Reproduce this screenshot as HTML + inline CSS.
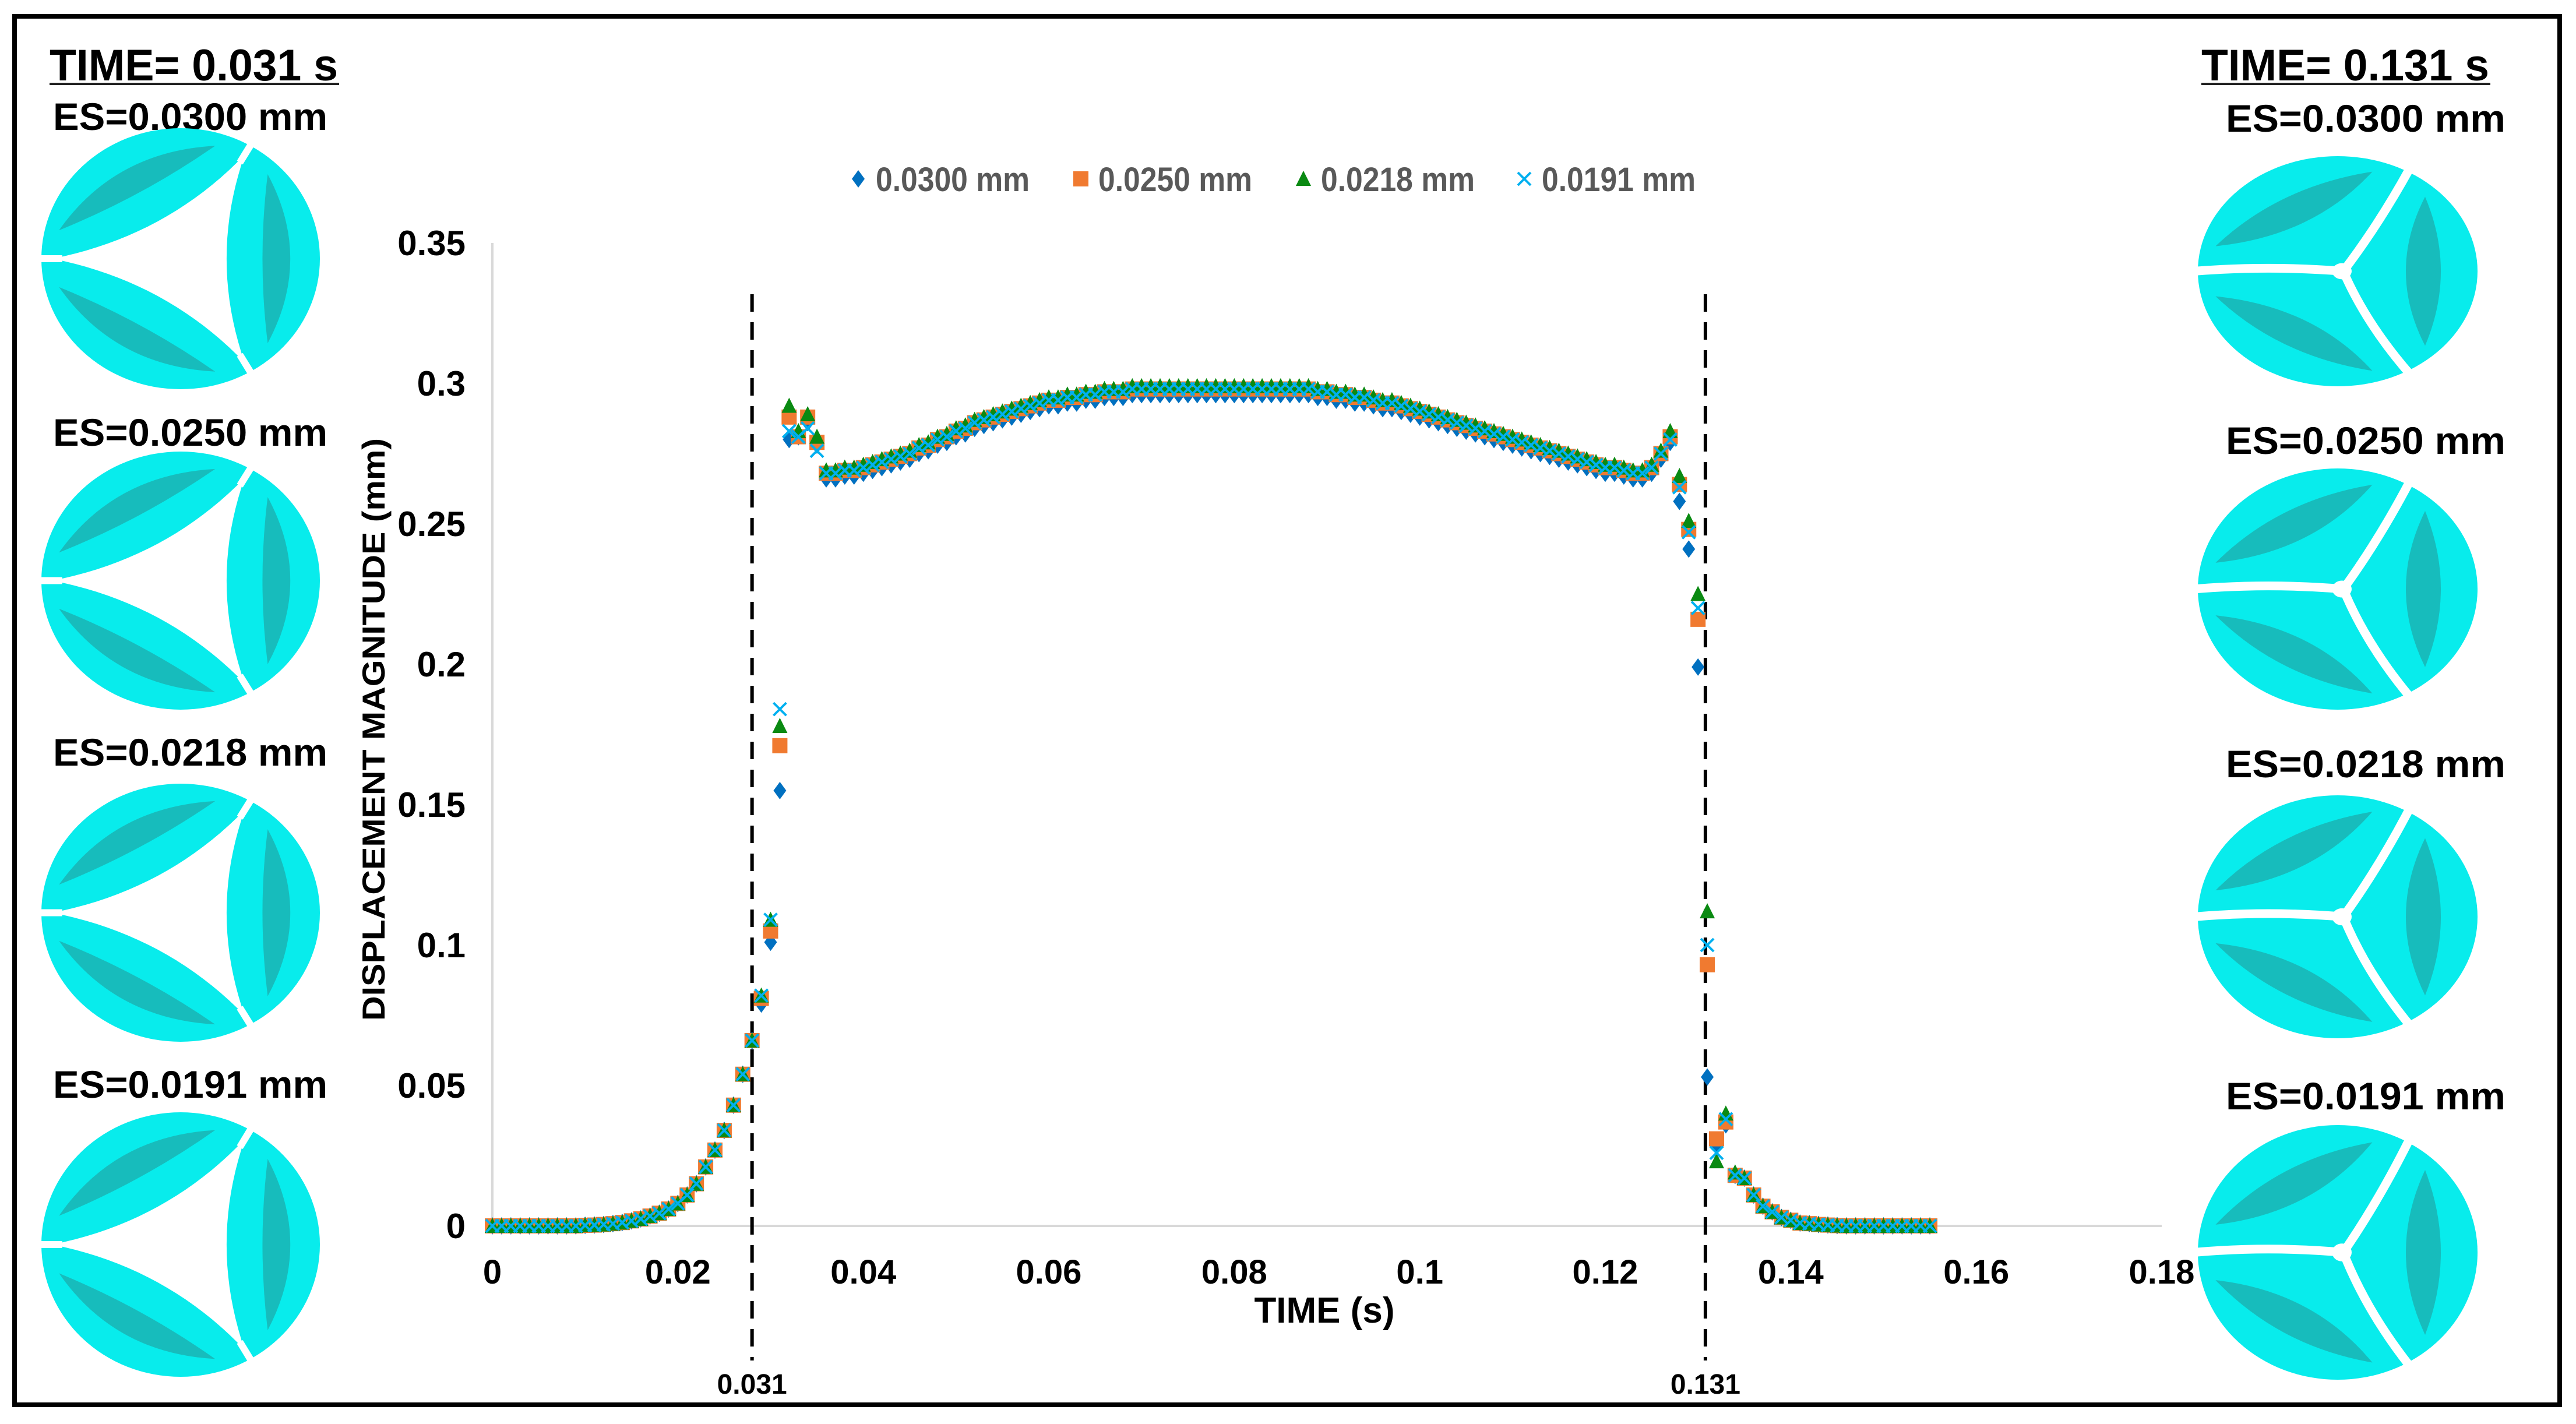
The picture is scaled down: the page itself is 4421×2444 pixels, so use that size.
<!DOCTYPE html>
<html><head><meta charset="utf-8"><style>
html,body{margin:0;padding:0;background:#fff}
svg{display:block}
.tk{font-family:"Liberation Sans Narrow","Liberation Sans",sans-serif;font-weight:bold;fill:#000}
.hd{font-family:"Liberation Sans",sans-serif;font-weight:bold;fill:#000}
</style></head><body>
<svg id="fig" width="4421" height="2444" viewBox="0 0 4421 2444" xmlns="http://www.w3.org/2000/svg">
<rect x="25" y="28" width="4368" height="2383" fill="none" stroke="#000" stroke-width="8"/>
<text class="hd" x="85" y="138" font-size="76" textLength="495" lengthAdjust="spacingAndGlyphs">TIME= 0.031 s</text>
<line x1="85" y1="144" x2="582" y2="144" stroke="#222" stroke-width="4"/>
<text class="hd" x="3778" y="138" font-size="76" textLength="494" lengthAdjust="spacingAndGlyphs">TIME= 0.131 s</text>
<line x1="3778" y1="144" x2="4274" y2="144" stroke="#222" stroke-width="4"/>
<g id="valves"></g>
<g id="chart"></g>
</svg>
<script>
// ---- chart data ----
const times = [0,0.001,0.002,0.003,0.004,0.005,0.006,0.007,0.008,0.009,0.01,0.011,0.012,0.013,0.014,0.015,0.016,0.017,0.018,0.019,0.02,0.021,0.022,0.023,0.024,0.025,0.026,0.027,0.028,0.029,0.03,0.031,0.032,0.033,0.034,0.035,0.036,0.037,0.038,0.039,0.04,0.041,0.042,0.043,0.044,0.045,0.046,0.047,0.048,0.049,0.05,0.051,0.052,0.053,0.054,0.055,0.056,0.057,0.058,0.059,0.06,0.061,0.062,0.063,0.064,0.065,0.066,0.067,0.068,0.069,0.07,0.071,0.072,0.073,0.074,0.075,0.076,0.077,0.078,0.079,0.08,0.081,0.082,0.083,0.084,0.085,0.086,0.087,0.088,0.089,0.09,0.091,0.092,0.093,0.094,0.095,0.096,0.097,0.098,0.099,0.1,0.101,0.102,0.103,0.104,0.105,0.106,0.107,0.108,0.109,0.11,0.111,0.112,0.113,0.114,0.115,0.116,0.117,0.118,0.119,0.12,0.121,0.122,0.123,0.124,0.125,0.126,0.127,0.128,0.129,0.13,0.131,0.132,0.133,0.134,0.135,0.136,0.137,0.138,0.139,0.14,0.141,0.142,0.143,0.144,0.145,0.146,0.147,0.148,0.149,0.15,0.151,0.152,0.153,0.154,0.155];
const es0300 = [0,0,0,0,0,0,0,0,0,0,0.0002,0.0003,0.0005,0.0008,0.0012,0.0018,0.0025,0.0035,0.0045,0.006,0.008,0.011,0.015,0.021,0.027,0.034,0.043,0.054,0.066,0.079,0.101,0.155,0.280,0.281,0.286,0.278,
0.266,0.266,0.267,0.267,0.268,0.269,0.270,0.271,0.272,0.273,0.275,0.276,0.278,0.279,0.281,0.282,0.284,0.285,0.286,0.287,0.288,0.289,0.290,0.291,0.292,0.292,0.293,0.293,0.294,0.294,0.295,0.295,0.295,0.296,0.296,0.296,0.296,0.296,0.296,0.296,0.296,0.296,0.296,0.296,0.296,0.296,0.296,0.296,0.296,0.296,0.296,0.296,0.296,0.295,0.295,0.294,0.294,0.293,0.293,0.292,0.291,0.291,0.290,0.289,0.288,0.287,0.286,0.285,0.284,0.283,0.282,0.281,0.280,0.279,0.278,0.277,0.276,0.275,0.274,0.273,0.272,0.271,0.270,0.269,0.268,0.268,0.267,0.266,0.266,
0.268,0.273,0.279,0.258,0.241,0.199,0.053,0.029,0.036,0.018,0.017,0.011,0.007,0.005,0.003,0.002,0.001,0.0008,0.0005,0.0003,0.0001,0,0,0,0,0,0,0,0,0,0];
const es0250 = [0,0,0,0,0,0,0,0,0,0,0.0002,0.0003,0.0005,0.0008,0.0012,0.0018,0.0025,0.0035,0.0045,0.006,0.008,0.011,0.015,0.021,0.027,0.034,0.043,0.054,0.066,0.081,0.105,0.171,0.288,0.281,0.288,0.279,
0.268,0.268,0.269,0.269,0.270,0.271,0.272,0.273,0.274,0.275,0.277,0.278,0.280,0.281,0.283,0.284,0.286,0.287,0.288,0.289,0.290,0.291,0.292,0.293,0.294,0.294,0.295,0.295,0.296,0.296,0.297,0.297,0.297,0.298,0.298,0.298,0.298,0.298,0.298,0.298,0.298,0.298,0.298,0.298,0.298,0.298,0.298,0.298,0.298,0.298,0.298,0.298,0.298,0.297,0.297,0.296,0.296,0.295,0.295,0.294,0.293,0.293,0.292,0.291,0.290,0.289,0.288,0.287,0.286,0.285,0.284,0.283,0.282,0.281,0.280,0.279,0.278,0.277,0.276,0.275,0.274,0.273,0.272,0.271,0.270,0.270,0.269,0.268,0.268,
0.270,0.275,0.281,0.264,0.248,0.216,0.093,0.031,0.037,0.018,0.017,0.011,0.007,0.005,0.003,0.002,0.001,0.0008,0.0005,0.0003,0.0001,0,0,0,0,0,0,0,0,0,0];
const es0218 = [0,0,0,0,0,0,0,0,0,0,0.0002,0.0003,0.0005,0.0008,0.0012,0.0018,0.0025,0.0035,0.0045,0.006,0.008,0.011,0.015,0.021,0.027,0.034,0.043,0.054,0.066,0.082,0.109,0.178,0.292,0.283,0.289,0.281,
0.269,0.269,0.270,0.270,0.271,0.272,0.273,0.274,0.275,0.276,0.278,0.279,0.281,0.282,0.284,0.285,0.287,0.288,0.289,0.290,0.291,0.292,0.293,0.294,0.295,0.295,0.296,0.296,0.297,0.297,0.298,0.298,0.298,0.299,0.299,0.299,0.299,0.299,0.299,0.299,0.299,0.299,0.299,0.299,0.299,0.299,0.299,0.299,0.299,0.299,0.299,0.299,0.299,0.298,0.298,0.297,0.297,0.296,0.296,0.295,0.294,0.294,0.293,0.292,0.291,0.290,0.289,0.288,0.287,0.286,0.285,0.284,0.283,0.282,0.281,0.280,0.279,0.278,0.277,0.276,0.275,0.274,0.273,0.272,0.271,0.271,0.270,0.269,0.269,
0.271,0.276,0.283,0.267,0.251,0.225,0.112,0.023,0.040,0.019,0.017,0.011,0.007,0.005,0.003,0.002,0.001,0.0008,0.0005,0.0003,0.0001,0,0,0,0,0,0,0,0,0,0];
const es0191 = [0,0,0,0,0,0,0,0,0,0,0.0002,0.0003,0.0005,0.0008,0.0012,0.0018,0.0025,0.0035,0.0045,0.006,0.008,0.011,0.015,0.021,0.027,0.034,0.043,0.054,0.066,0.082,0.109,0.184,0.283,0.281,0.284,0.276,
0.268,0.268,0.269,0.269,0.270,0.271,0.272,0.273,0.274,0.275,0.277,0.278,0.280,0.281,0.283,0.284,0.286,0.287,0.288,0.289,0.290,0.291,0.292,0.293,0.294,0.294,0.295,0.295,0.296,0.296,0.297,0.297,0.297,0.298,0.298,0.298,0.298,0.298,0.298,0.298,0.298,0.298,0.298,0.298,0.298,0.298,0.298,0.298,0.298,0.298,0.298,0.298,0.298,0.297,0.297,0.296,0.296,0.295,0.295,0.294,0.293,0.293,0.292,0.291,0.290,0.289,0.288,0.287,0.286,0.285,0.284,0.283,0.282,0.281,0.280,0.279,0.278,0.277,0.276,0.275,0.274,0.273,0.272,0.271,0.270,0.270,0.269,0.268,0.268,
0.270,0.275,0.280,0.263,0.247,0.220,0.100,0.026,0.038,0.018,0.017,0.011,0.007,0.005,0.003,0.002,0.001,0.0008,0.0005,0.0003,0.0001,0,0,0,0,0,0,0,0,0,0];
const seriesNames = ["0.0300 mm","0.0250 mm","0.0218 mm","0.0191 mm"];
const xTicks = [0,0.02,0.04,0.06,0.08,0.1,0.12,0.14,0.16,0.18];
const xTickLabels = ["0","0.02","0.04","0.06","0.08","0.1","0.12","0.14","0.16","0.18"];
const yTicks = [0,0.05,0.1,0.15,0.2,0.25,0.3,0.35];
const yTickLabels = ["0","0.05","0.1","0.15","0.2","0.25","0.3","0.35"];
const markerTimes = [0.028,0.1308];
const markerLabels = ["0.031","0.131"];

const NS="http://www.w3.org/2000/svg";
function mk(tag,attrs,parent){const e=document.createElementNS(NS,tag);for(const k in attrs)e.setAttribute(k,attrs[k]);parent.appendChild(e);return e;}
const X0=845,X1=3710,Y0=2104,Y1=417,XMAX=0.18,YMAX=0.35;
const xs=t=>X0+t/XMAX*(X1-X0);
const ys=v=>Y0-v/YMAX*(Y0-Y1);
const chart=document.getElementById('chart');

let el=mk('line',{x1:X0,y1:Y1,x2:X0,y2:Y0,stroke:'#d9d9d9','stroke-width':4},chart);


el=mk('line',{x1:X0,y1:Y0,x2:X1,y2:Y0,stroke:'#d9d9d9','stroke-width':4},chart);


yTicks.forEach((v,i)=>{const t=mk('text',{x:799,y:ys(v)+21,'text-anchor':'end','font-size':60,class:'tk'},chart);t.textContent=yTickLabels[i];

});
xTicks.forEach((v,i)=>{const t=mk('text',{x:xs(v),y:2203,'text-anchor':'middle','font-size':58,class:'tk'},chart);t.textContent=xTickLabels[i];

});
el=mk('text',{x:2273,y:2270,'text-anchor':'middle','font-size':62,class:'tk'},chart);el.textContent='TIME (s)';


el=mk('text',{x:0,y:0,'text-anchor':'middle','font-size':55,class:'hd',transform:'translate(660,1252) rotate(-90)',textLength:1000,lengthAdjust:'spacingAndGlyphs'},chart);el.textContent='DISPLACEMENT MAGNITUDE  (mm)';



markerTimes.forEach((t,i)=>{const l=mk('line',{x1:xs(t),y1:505,x2:xs(t),y2:2335,stroke:'#000','stroke-width':6,'stroke-dasharray':'30 18'},chart);


const tx=mk('text',{x:xs(t),y:2392,'text-anchor':'middle','font-size':48,class:'tk'},chart);tx.textContent=markerLabels[i];

});

const colors=['#0070c0','#f07a30','#0a8a12','#00b0f0'];
function marker(kind,x,y,g){
  const s=13;
  if(kind===0) return mk('path',{d:`M${x} ${y-s-2}L${x+s-2} ${y}L${x} ${y+s+2}L${x-s+2} ${y}Z`,fill:colors[0]},g);
  if(kind===1) return mk('rect',{x:x-s,y:y-s,width:2*s,height:2*s,fill:colors[1]},g);
  if(kind===2) return mk('path',{d:`M${x} ${y-s-1}L${x+s} ${y+s-1}L${x-s} ${y+s-1}Z`,fill:colors[2]},g);
  return mk('path',{d:`M${x-s+2} ${y-s+2}L${x+s-2} ${y+s-2}M${x+s-2} ${y-s+2}L${x-s+2} ${y+s-2}`,stroke:colors[3],'stroke-width':4,fill:'none'},g);
}
const allSeries=[es0300,es0250,es0218,es0191];
allSeries.forEach((vals,k)=>{
  const g=mk('g',{},chart);
  
  
  vals.forEach((v,i)=>{const m=marker(k,xs(times[i]),ys(v),g);
    
    });
});
const legX=[1473,1855,2237,2616];
seriesNames.forEach((n,k)=>{
  const g=mk('g',{},chart);
  
  
  marker(k,legX[k],307,g);
  const t=mk('text',{x:legX[k]+30,y:328,'font-size':58,class:'tk',style:'fill:#595959',textLength:264,lengthAdjust:'spacingAndGlyphs'},g);t.textContent=n;
});

// ---- valves ----
const valves=document.getElementById('valves');
const leftLabels=[["ES=0.0300 mm",223],["ES=0.0250 mm",765],["ES=0.0218 mm",1314],["ES=0.0191 mm",1884]];
const rightLabels=[["ES=0.0300 mm",226],["ES=0.0250 mm",779],["ES=0.0218 mm",1334],["ES=0.0191 mm",1904]];
leftLabels.forEach(([s,y])=>{const t=mk('text',{x:91,y:y,'font-size':66,class:'hd',textLength:471,lengthAdjust:'spacingAndGlyphs'},valves);t.textContent=s;

});
rightLabels.forEach(([s,y])=>{const t=mk('text',{x:3820,y:y,'font-size':66,class:'hd',textLength:480,lengthAdjust:'spacingAndGlyphs'},valves);t.textContent=s;

});
const leftBoxes=[[71,220,549,668],[71,775,549,1218],[71,1345,549,1788],[71,1909,549,2363]];
const rightBoxes=[[3772,268,4252,663],[3772,804,4252,1218],[3772,1365,4252,1782],[3772,1931,4252,2368]];
function pt(a,r){const rad=a*Math.PI/180;return [r*Math.cos(rad),r*Math.sin(rad)];}
function valve(b,open){
  const cx=(b[0]+b[2])/2,cy=(b[1]+b[3])/2,rx=(b[2]-b[0])/2,ry=(b[3]-b[1])/2;
  const P=p=>[(cx+p[0]*rx).toFixed(1),(cy+p[1]*ry).toFixed(1)].join(' ');
  const g=mk('g',{},valves);
  
  
  mk('ellipse',{cx:cx,cy:cy,rx:rx,ry:ry,fill:'#08ecec'},g);
  [180,-60,60].forEach(a=>{
    const a2=a+120, mid=a+60;
    const inner=open?0.55:0.35, outer=open?0.95:0.85;
    const s1=pt(a+14,0.9),s2=pt(a2-14,0.9),ci=pt(mid,inner),co=pt(mid,outer);
    mk('path',{d:`M${P(s1)}Q${P(ci)} ${P(s2)}Q${P(co)} ${P(s1)}Z`,fill:'#1bb0b0',opacity:0.8},g);
  });
  if(open){
    const V=[pt(180,0.92),pt(-60,0.92),pt(60,0.92)];
    const Cc=[pt(-120,0.2),pt(0,0.2),pt(120,0.2)];
    const pts=[];
    for(let k=0;k<3;k++){
      const A=V[k],B=V[(k+1)%3],C=Cc[k];
      for(let s=0;s<20;s++){const u=s/20;
        pts.push(P([(1-u)*(1-u)*A[0]+2*u*(1-u)*C[0]+u*u*B[0],(1-u)*(1-u)*A[1]+2*u*(1-u)*C[1]+u*u*B[1]]));}
    }
    mk('polygon',{points:pts.join(' '),fill:'#ffffff'},g);
    [180,-60,60].forEach(a=>{const p=pt(a,0.85),q=pt(a,1.03);mk('path',{d:`M${P(p)}L${P(q)}`,stroke:'#fff','stroke-width':12,fill:'none'},g);});
  } else {
    [180,-60,60].forEach(a=>{const q=pt(a,1.03),m=pt(a+6,0.5);mk('path',{d:`M${P([0.04,0])}Q${P(m)} ${P(q)}`,fill:'none',stroke:'#fff','stroke-width':15},g);});
    mk('ellipse',{cx:cx+0.03*rx,cy:cy,rx:0.07*rx,ry:0.07*ry,fill:'#fff'},g);
  }
}
leftBoxes.forEach(b=>valve(b,true));
rightBoxes.forEach(b=>valve(b,false));
</script>
</body></html>
